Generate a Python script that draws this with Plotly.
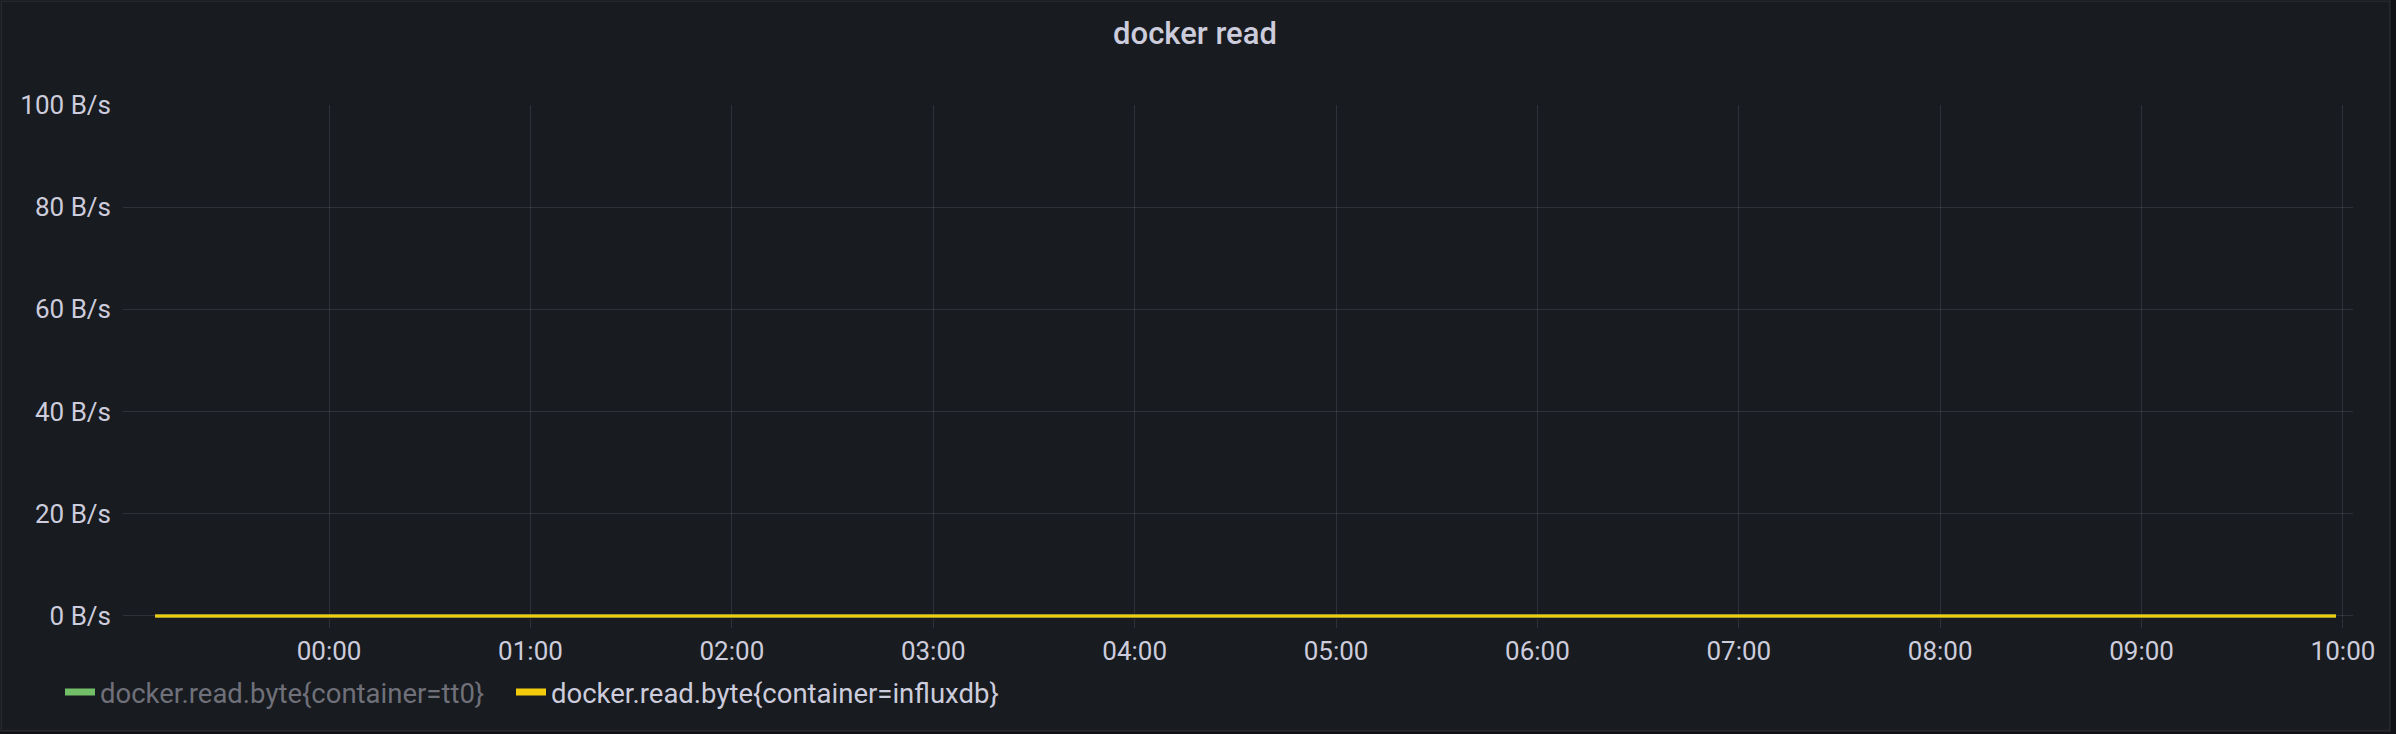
import plotly.graph_objects as go

# ---- data ----
times = ["2024-01-01 23:08:10", "2024-01-02 00:00:00", "2024-01-02 01:00:00",
         "2024-01-02 02:00:00", "2024-01-02 03:00:00", "2024-01-02 04:00:00",
         "2024-01-02 05:00:00", "2024-01-02 06:00:00", "2024-01-02 07:00:00",
         "2024-01-02 08:00:00", "2024-01-02 09:00:00", "2024-01-02 09:57:55"]
tt0_values = [0, 0, 0, 0, 0, 0, 0, 0, 0, 0, 0, 0]
influxdb_values = [0, 0, 0, 0, 0, 0, 0, 0, 0, 0, 0, 0]
series_names = ["docker.read.byte{container=tt0}", "docker.read.byte{container=influxdb}"]
x_range = ["2024-01-01 22:58:36", "2024-01-02 10:02:59"]
x_tickvals = ["2024-01-02 00:00:00", "2024-01-02 01:00:00", "2024-01-02 02:00:00",
              "2024-01-02 03:00:00", "2024-01-02 04:00:00", "2024-01-02 05:00:00",
              "2024-01-02 06:00:00", "2024-01-02 07:00:00", "2024-01-02 08:00:00",
              "2024-01-02 09:00:00", "2024-01-02 10:00:00"]
x_ticktext = ["00:00", "01:00", "02:00", "03:00", "04:00", "05:00",
              "06:00", "07:00", "08:00", "09:00", "10:00"]
y_tickvals = [0, 20, 40, 60, 80, 100]
y_ticktext = ["0 B/s", "20 B/s", "40 B/s", "60 B/s", "80 B/s", "100 B/s"]

W, H = 2396, 734
ML, MR, MT, MB = 123, 43, 105, 116
PW, PH = W - ML - MR, H - MT - MB

BG = "#181b1f"
PAGE = "#111217"
TXT = "#ccccdc"
GRID = "rgba(204,204,220,0.13)"
GREEN = "#73bf69"
YELLOW = "#f2cc0c"
FONT = "Roboto"


def px_x(p):
    return (p - ML) / PW


def px_y(p):
    return 1 - (p - MT) / PH


fig = go.Figure()
# real data traces
fig.add_trace(go.Scatter(x=times, y=tt0_values, mode="lines", line=dict(color=GREEN, width=3),
                         showlegend=False, hoverinfo="skip"))
fig.add_trace(go.Scatter(x=times, y=influxdb_values, mode="lines", line=dict(color=YELLOW, width=3),
                         showlegend=False, hoverinfo="skip"))
# legend entries (Grafana style thick swatches)
fig.add_trace(go.Scatter(x=[None], y=[None], mode="lines", name=series_names[0],
                         line=dict(color=GREEN, width=7), legend="legend"))
fig.add_trace(go.Scatter(x=[None], y=[None], mode="lines", name=series_names[1],
                         line=dict(color=YELLOW, width=7), legend="legend2"))

fig.update_layout(
    width=W, height=H,
    margin=dict(l=ML, r=MR, t=MT, b=MB, pad=0, autoexpand=False),
    paper_bgcolor=PAGE,
    plot_bgcolor="rgba(0,0,0,0)",
    font=dict(family=FONT, size=26, color=TXT),
    title=dict(text="docker read", x=1195 / W, xref="container", xanchor="center",
               y=1 - 33 / H, yref="container", yanchor="middle",
               font=dict(family=FONT, size=31, color=TXT, weight=500)),
    showlegend=True,
    legend=dict(orientation="h", x=px_x(60), y=px_y(692), xanchor="left", yanchor="middle",
                font=dict(family=FONT, size=27.5, color="#6f707a"), bgcolor="rgba(0,0,0,0)",
                itemwidth=30),
    legend2=dict(orientation="h", x=px_x(511), y=px_y(692), xanchor="left", yanchor="middle",
                 font=dict(family=FONT, size=27.5, color=TXT), bgcolor="rgba(0,0,0,0)",
                 itemwidth=30),
    xaxis=dict(type="date", range=x_range, tickvals=x_tickvals, ticktext=x_ticktext,
               showgrid=True, gridcolor=GRID, gridwidth=1,
               ticks="outside", ticklen=9, tickcolor=GRID, tickwidth=1, ticklabelstandoff=1,
               showline=False, zeroline=False, tickfont=dict(size=26, color=TXT)),
    yaxis=dict(range=[-0.4, 100], tickvals=y_tickvals, ticktext=y_ticktext, showgrid=True,
               gridcolor=GRID, gridwidth=1, zeroline=True, zerolinecolor=GRID, zerolinewidth=1,
               showline=False, ticks="", ticklabelstandoff=11, tickfont=dict(size=26, color=TXT)),
    shapes=[dict(type="rect", xref="paper", yref="paper", layer="below",
                 x0=px_x(1), x1=px_x(2390), y0=px_y(731), y1=px_y(1),
                 fillcolor=BG, line=dict(color="rgba(204,204,220,0.08)", width=2))],
)

fig.write_html("out.html", config={"displayModeBar": False},
               post_script="document.body.style.margin='0';")
